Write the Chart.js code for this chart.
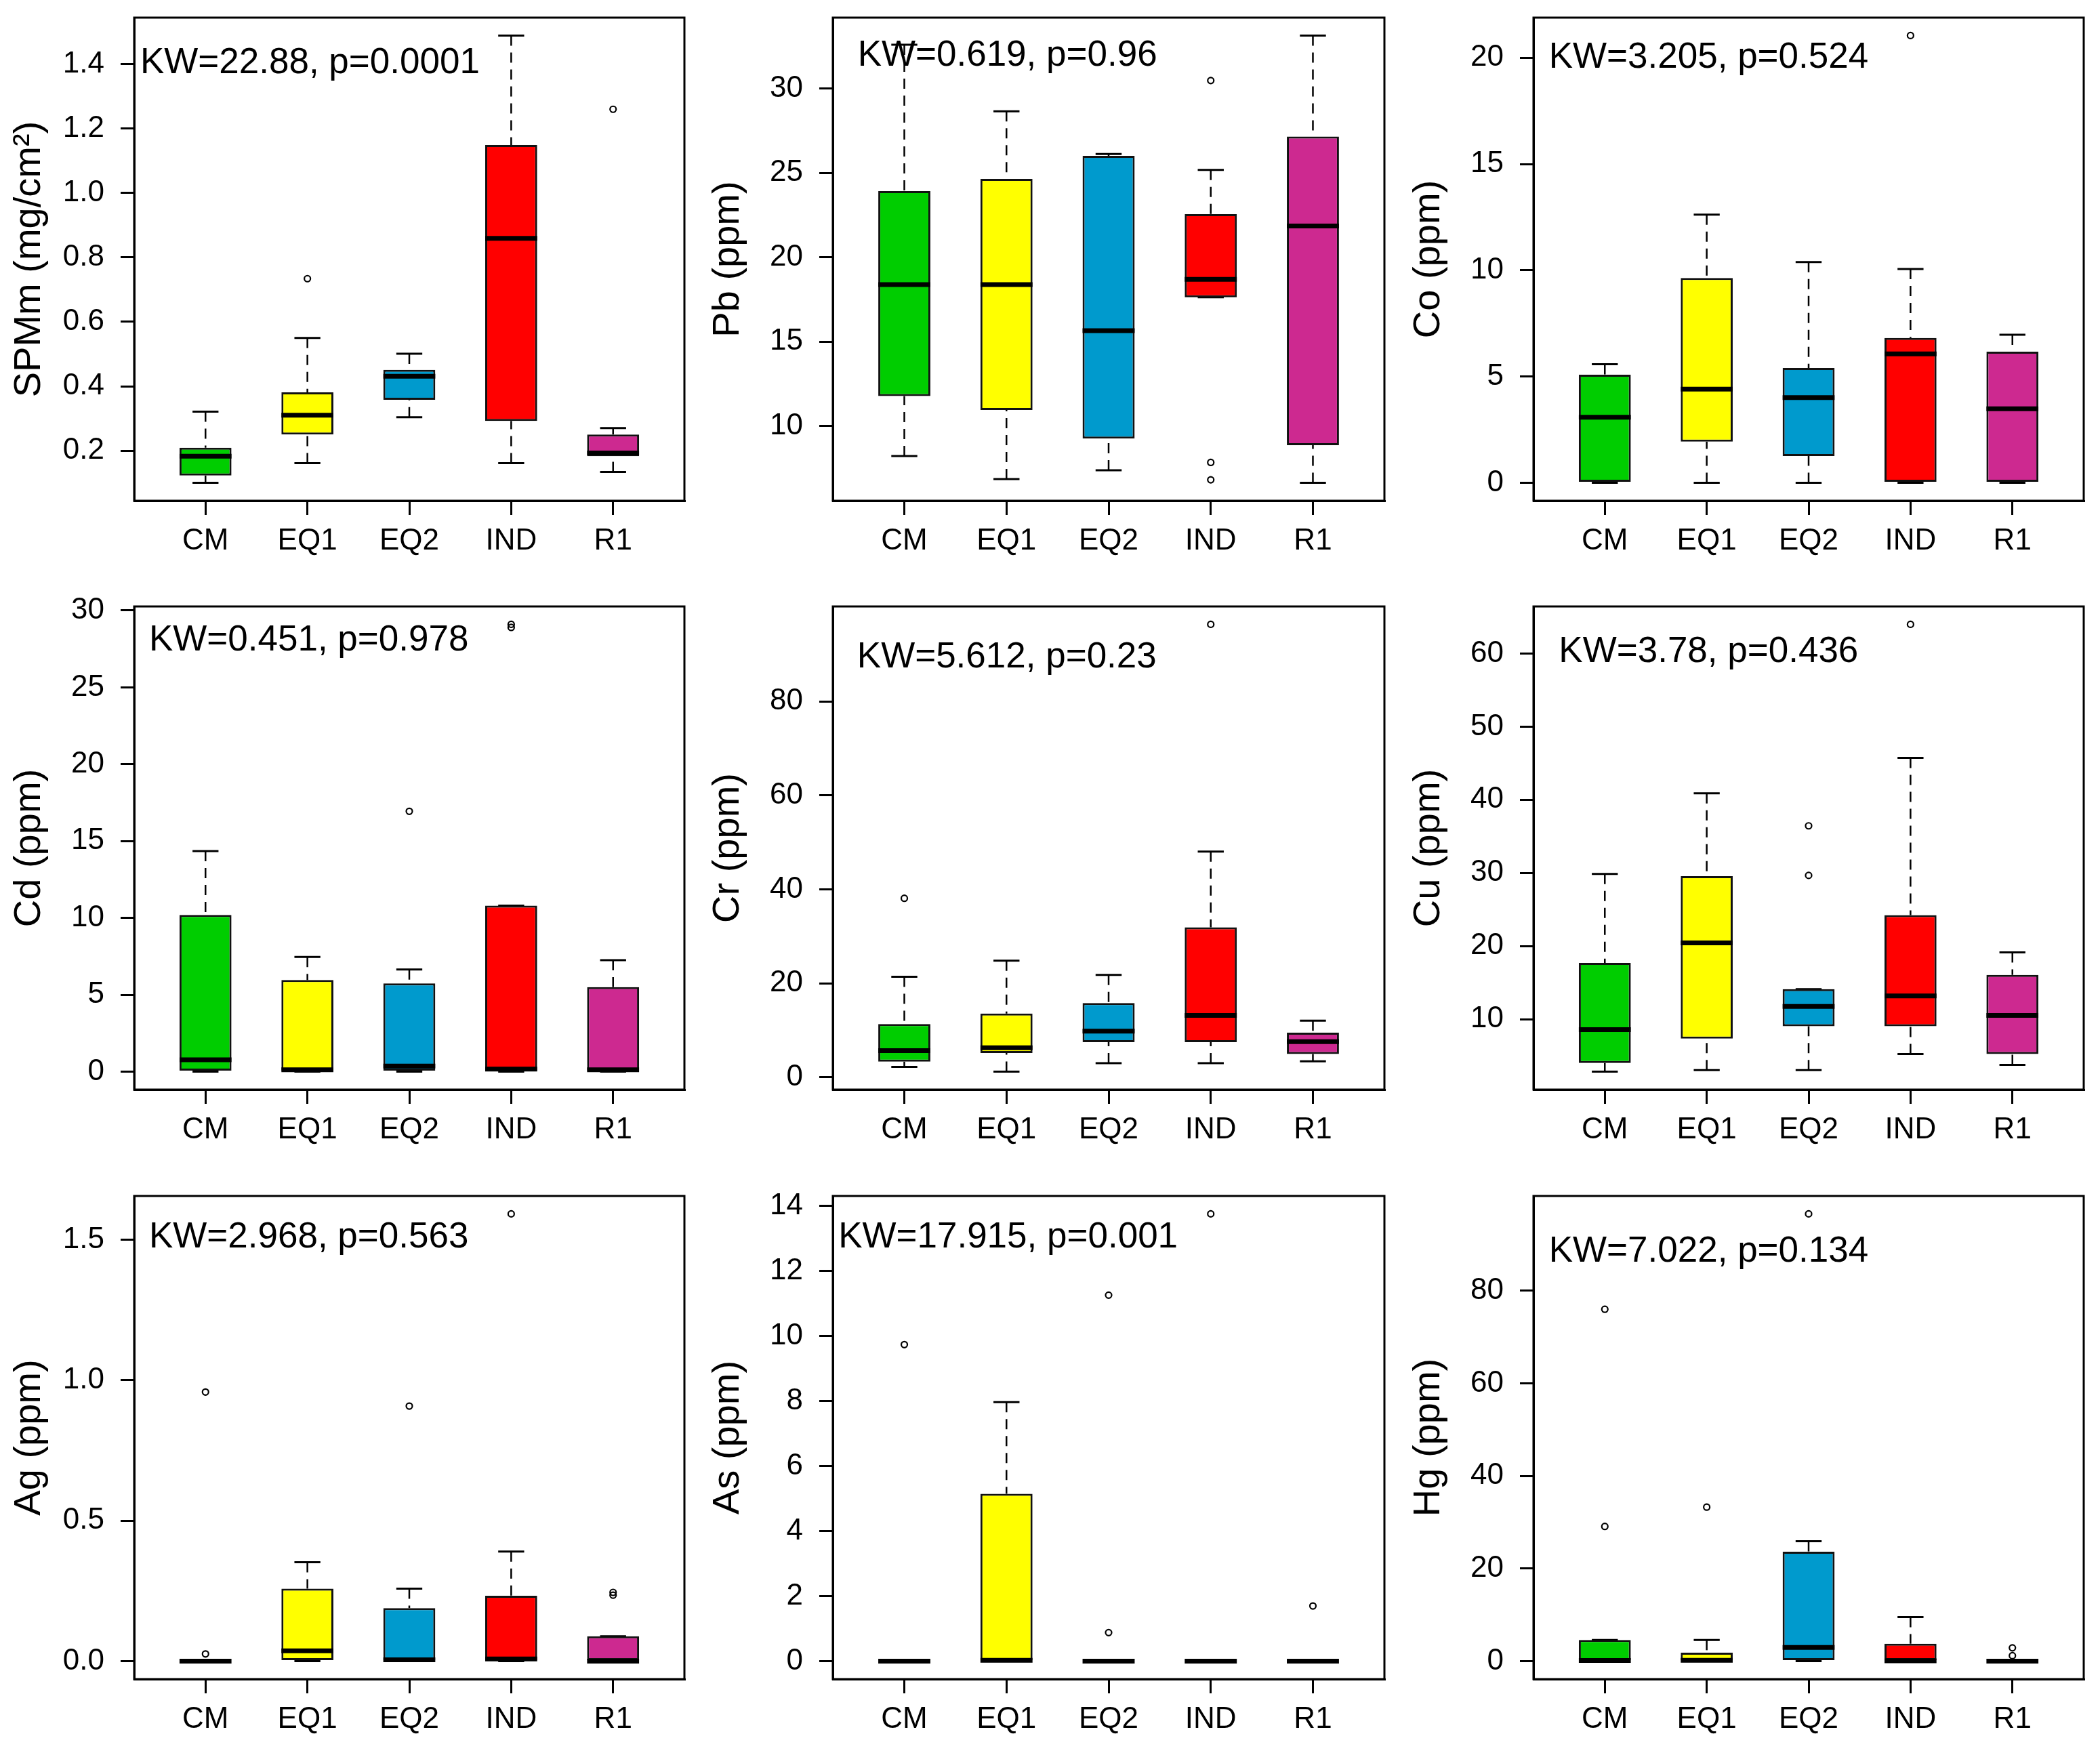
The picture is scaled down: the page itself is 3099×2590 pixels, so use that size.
<!DOCTYPE html>
<html><head><meta charset="utf-8">
<script src="https://cdn.jsdelivr.net/npm/chart.js@4.4.1/dist/chart.umd.min.js"></script>
<style>
html,body{margin:0;padding:0;background:#fff;}
body{width:3099px;height:2590px;overflow:hidden;position:relative;}
canvas{position:absolute;}
</style></head><body>
<script>
// ---------------- DATA ----------------
const categories = ['CM','EQ1','EQ2','IND','R1'];
const boxColors = ['#00CD00','#FFFF00','#009ACD','#FF0000','#CD2990'];
// each row: [lower whisker, Q1, median, Q3, upper whisker]
const spmmStats = [[0.100,0.123,0.183,0.209,0.321],[0.161,0.250,0.310,0.381,0.550],[0.304,0.358,0.431,0.451,0.501],[0.161,0.292,0.859,1.149,1.489],[0.134,0.183,0.193,0.250,0.270]];
const spmmOutliers = [[],[0.734],[],[],[1.260]];
const pbStats = [[8.22,11.78,18.38,23.93,32.6],[6.85,10.95,18.38,24.65,28.66],[7.38,9.25,15.65,26.02,26.13],[17.63,17.63,18.69,22.56,25.18],[6.63,8.86,21.86,27.16,33.15]];
const pbOutliers = [[],[],[],[30.48,7.84,6.81],[]];
const coStats = [[0,0,3.09,5.09,5.58],[0,1.94,4.41,9.64,12.62],[0,1.26,4.01,5.41,10.39],[0,0,6.07,6.82,10.06],[0,0,3.49,6.17,6.97]];
const coOutliers = [[],[],[],[21.05],[]];
const cdStats = [[0,0,0.78,10.2,14.35],[0,0,0.12,5.97,7.46],[0,0,0.37,5.75,6.65],[0,0,0.17,10.8,10.8],[0,0,0.12,5.5,7.26]];
const cdOutliers = [[],[],[16.94],[29.1,28.9],[]];
const crStats = [[2.24,3.35,5.67,11.34,21.4],[1.2,5.19,6.31,13.57,24.83],[3.03,7.5,9.82,15.8,21.8],[3.03,7.5,13.17,31.94,48.06],[3.43,4.95,7.58,9.5,12.06]];
const crOutliers = [[38.1],[],[],[96.4],[]];
const cuStats = [[2.81,3.99,8.56,17.7,29.87],[3.02,7.33,20.42,29.56,40.9],[3.02,9.02,11.75,14.1,14.1],[5.23,9.02,13.18,24.22,45.73],[3.74,5.23,10.51,16.06,19.14]];
const cuOutliers = [[],[],[36.44,29.66],[64.0],[]];
const agStats = [[0,0,0,0,0],[0,0,0.037,0.258,0.352],[0,0,0.005,0.189,0.258],[0,0,0.008,0.233,0.39],[0,0,0,0.089,0.089]];
const agOutliers = [[0.026,0.958],[],[0.908],[1.592],[0.245,0.235]];
const asStats = [[0,0,0,0,0],[0,0,0.03,5.15,7.97],[0,0,0,0,0],[0,0,0,0,0],[0,0,0,0,0]];
const asOutliers = [[9.74],[],[11.26,0.88],[13.76],[1.70]];
const hgStats = [[0,0,0.15,4.57,4.57],[0,0,0.2,1.84,4.57],[0,0,2.97,23.65,25.9],[0,0,0.1,3.77,9.54],[0,0,0,0.3,0.3]];
const hgOutliers = [[76.0,29.1],[33.27],[96.6],[],[2.89,1.2]];

const yTitles = ['SPMm (mg/cm²)','Pb (ppm)','Co (ppm)','Cd (ppm)','Cr (ppm)','Cu (ppm)','Ag (ppm)','As (ppm)','Hg (ppm)'];
const kwLabels = ['KW=22.88, p=0.0001','KW=0.619, p=0.96','KW=3.205, p=0.524','KW=0.451, p=0.978','KW=5.612, p=0.23','KW=3.78, p=0.436','KW=2.968, p=0.563','KW=17.915, p=0.001','KW=7.022, p=0.134'];

const spmmTicks = [0.2,0.4,0.6,0.8,1.0,1.2,1.4]; const spmmTickLabels = ['0.2','0.4','0.6','0.8','1.0','1.2','1.4'];
const pbTicks = [10,15,20,25,30]; const pbTickLabels = ['10','15','20','25','30'];
const coTicks = [0,5,10,15,20]; const coTickLabels = ['0','5','10','15','20'];
const cdTicks = [0,5,10,15,20,25,30]; const cdTickLabels = ['0','5','10','15','20','25','30'];
const crTicks = [0,20,40,60,80]; const crTickLabels = ['0','20','40','60','80'];
const cuTicks = [10,20,30,40,50,60]; const cuTickLabels = ['10','20','30','40','50','60'];
const agTicks = [0,0.5,1.0,1.5]; const agTickLabels = ['0.0','0.5','1.0','1.5'];
const asTicks = [0,2,4,6,8,10,12,14]; const asTickLabels = ['0','2','4','6','8','10','12','14'];
const hgTicks = [0,20,40,60,80]; const hgTickLabels = ['0','20','40','60','80'];

// ---------------- LAYOUT ----------------
const colLeft = [198, 1229, 2263];
const colWidth = [812, 814, 812];
const rowTop = [26, 895, 1765];
const rowHeight = 713;
const kwPos = [[0.011,0.095],[0.045,0.079],[0.028,0.083],[0.027,0.070],[0.044,0.106],[0.046,0.095],[0.027,0.086],[0.010,0.086],[0.028,0.115]];
const FONT = '"Liberation Sans", Arial, Helvetica, sans-serif';

const panels = [
  {stats: spmmStats, out: spmmOutliers, ticks: spmmTicks, labels: spmmTickLabels},
  {stats: pbStats, out: pbOutliers, ticks: pbTicks, labels: pbTickLabels},
  {stats: coStats, out: coOutliers, ticks: coTicks, labels: coTickLabels},
  {stats: cdStats, out: cdOutliers, ticks: cdTicks, labels: cdTickLabels},
  {stats: crStats, out: crOutliers, ticks: crTicks, labels: crTickLabels},
  {stats: cuStats, out: cuOutliers, ticks: cuTicks, labels: cuTickLabels},
  {stats: agStats, out: agOutliers, ticks: agTicks, labels: agTickLabels},
  {stats: asStats, out: asOutliers, ticks: asTicks, labels: asTickLabels},
  {stats: hgStats, out: hgOutliers, ticks: hgTicks, labels: hgTickLabels}
];

const boxPlugin = {
  id: 'boxExtras',
  beforeDatasetsDraw(chart, args, opts) {
    const ctx = chart.ctx, xs = chart.scales.x, ys = chart.scales.y;
    const meta = chart.getDatasetMeta(0);
    ctx.save();
    ctx.strokeStyle = '#000';
    opts.stats.forEach((s, i) => {
      const cx = xs.getPixelForValue(i + 1);
      const hw = meta.data[i].width / 2;
      ctx.lineWidth = 2.5; ctx.setLineDash([15, 10]); ctx.lineCap = 'butt';
      ctx.beginPath();
      ctx.moveTo(cx, ys.getPixelForValue(s[4])); ctx.lineTo(cx, ys.getPixelForValue(s[3]));
      ctx.moveTo(cx, ys.getPixelForValue(s[0])); ctx.lineTo(cx, ys.getPixelForValue(s[1]));
      ctx.stroke();
      ctx.setLineDash([]); ctx.lineWidth = 3;
      ctx.beginPath();
      ctx.moveTo(cx - hw / 2, ys.getPixelForValue(s[4])); ctx.lineTo(cx + hw / 2, ys.getPixelForValue(s[4]));
      ctx.moveTo(cx - hw / 2, ys.getPixelForValue(s[0])); ctx.lineTo(cx + hw / 2, ys.getPixelForValue(s[0]));
      ctx.stroke();
    });
    ctx.restore();
  },
  afterDatasetsDraw(chart, args, opts) {
    const ctx = chart.ctx, xs = chart.scales.x, ys = chart.scales.y;
    const meta = chart.getDatasetMeta(0);
    ctx.save();
    ctx.strokeStyle = '#000'; ctx.lineWidth = 7; ctx.lineCap = 'butt';
    opts.stats.forEach((s, i) => {
      const cx = xs.getPixelForValue(i + 1);
      const hw = meta.data[i].width / 2;
      const y = ys.getPixelForValue(s[2]);
      ctx.beginPath(); ctx.moveTo(cx - hw, y); ctx.lineTo(cx + hw, y); ctx.stroke();
    });
    ctx.restore();
  },
  afterDraw(chart, args, opts) {
    const ctx = chart.ctx, ca = chart.chartArea;
    ctx.save();
    ctx.strokeStyle = '#000'; ctx.lineWidth = 3;
    ctx.strokeRect(ca.left, ca.top, ca.right - ca.left, ca.bottom - ca.top);
    ctx.fillStyle = '#000';
    ctx.font = '53px ' + FONT;
    ctx.textBaseline = 'middle'; ctx.textAlign = 'left';
    ctx.fillText(opts.kw, ca.left + opts.pos[0] * (ca.right - ca.left), ca.top + opts.pos[1] * (ca.bottom - ca.top));
    ctx.restore();
  }
};

function makeChart(p, idx) {
  const col = idx % 3, row = Math.floor(idx / 3);
  const PADL = 190, PADT = 60, PADR = 14, XH = 110;
  const PW = colWidth[col], PH = rowHeight;
  const W = PADL + PW + PADR, H = PADT + PH + XH;
  const canvas = document.createElement('canvas');
  canvas.width = W; canvas.height = H;
  canvas.style.width = W + 'px'; canvas.style.height = H + 'px';
  canvas.style.left = (colLeft[col] - PADL) + 'px';
  canvas.style.top = (rowTop[row] - PADT) + 'px';
  document.body.appendChild(canvas);

  const all = p.stats.flat().concat(p.out.flat());
  const lo = Math.min(...all), hi = Math.max(...all), ext = (hi - lo) * 0.04;
  const boxData = p.stats.map((s, i) => ({x: i + 1, y: [s[1], s[3]]}));
  const outData = [];
  p.out.forEach((arr, i) => arr.forEach(v => outData.push({x: i + 1, y: v})));

  new Chart(canvas, {
    type: 'bar',
    data: {datasets: [
      {type: 'bar', data: boxData, backgroundColor: boxColors, borderColor: '#111', borderWidth: 3,
       borderSkipped: false, barPercentage: 0.51, categoryPercentage: 1, order: 2},
      {type: 'scatter', data: outData, pointStyle: 'circle', pointRadius: 4.5, pointBorderWidth: 2.2,
       pointBorderColor: '#000', pointBackgroundColor: 'rgba(0,0,0,0)', order: 1}
    ]},
    options: {
      responsive: false, animation: false, devicePixelRatio: 1,
      layout: {padding: {left: 0, top: PADT, right: PADR, bottom: 0}},
      plugins: {
        legend: {display: false}, tooltip: {enabled: false},
        boxExtras: {stats: p.stats, kw: kwLabels[idx], pos: kwPos[idx]}
      },
      scales: {
        x: {
          type: 'linear', min: 0.3, max: 5.7, offset: false, bounds: 'data',
          afterBuildTicks: s => { s.ticks = categories.map((c, i) => ({value: i + 1})); },
          afterFit: s => { s.height = XH; },
          ticks: {callback: (v, i) => categories[i], font: {family: FONT, size: 44}, color: '#000',
                  padding: 12, maxRotation: 0, autoSkip: false},
          grid: {display: true, offset: false, drawOnChartArea: false, drawTicks: true, tickLength: 21, color: '#000', lineWidth: 3},
          border: {display: true, color: '#000', width: 3}
        },
        y: {
          type: 'linear', min: lo - ext, max: hi + ext, bounds: 'data',
          afterBuildTicks: s => { s.ticks = p.ticks.map(v => ({value: v})); },
          afterFit: s => { s.width = PADL; },
          ticks: {callback: (v, i) => p.labels[i], font: {family: FONT, size: 44}, color: '#000',
                  padding: 24, autoSkip: false},
          grid: {display: true, offset: false, drawOnChartArea: false, drawTicks: true, tickLength: 20, color: '#000', lineWidth: 3},
          border: {display: true, color: '#000', width: 3},
          title: {display: true, text: yTitles[idx], font: {family: FONT, size: 56}, color: '#000',
                  padding: {top: 2, bottom: 0}}
        }
      }
    },
    plugins: [boxPlugin]
  });
}
panels.forEach(makeChart);
</script>
</body></html>
